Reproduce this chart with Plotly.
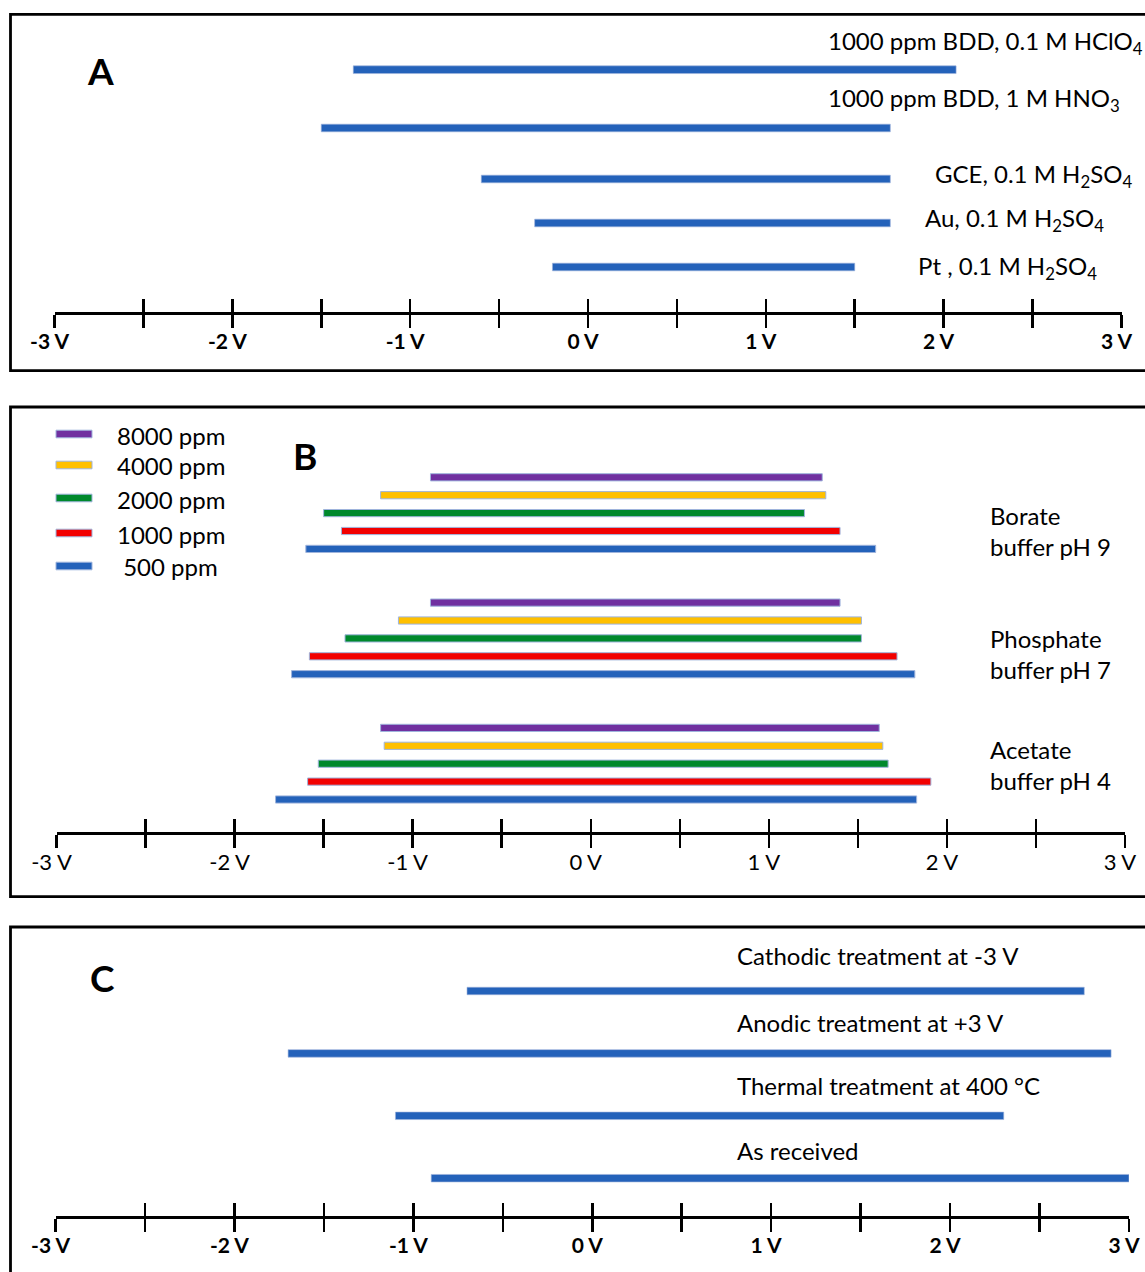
import plotly.graph_objects as go

# ---------------- data ----------------
tick_vals = [-3, -2.5, -2, -1.5, -1, -0.5, 0, 0.5, 1, 1.5, 2, 2.5, 3]
tick_text = ["-3 V", "", "-2 V", "", "-1 V", "", "0 V", "", "1 V", "", "2 V", "", "3 V"]

# Panel A
a_labels = ["1000 ppm BDD, 0.1 M HClO<sub>4</sub>",
            "1000 ppm BDD, 1 M HNO<sub>3</sub>",
            "GCE, 0.1 M H<sub>2</sub>SO<sub>4</sub>",
            "Au, 0.1 M H<sub>2</sub>SO<sub>4</sub>",
            "Pt , 0.1 M H<sub>2</sub>SO<sub>4</sub>"]
a_low = [-1.32, -1.50, -0.60, -0.30, -0.20]
a_high = [2.07, 1.70, 1.70, 1.70, 1.50]

# Panel B  (order of values: borate, phosphate, acetate)
b_buffers = ["Borate<br>buffer pH 9", "Phosphate<br>buffer pH 7", "Acetate<br>buffer pH 4"]
b_conc = ["8000 ppm", "4000 ppm", "2000 ppm", "1000 ppm", " 500 ppm"]
b_low_8000 = [-0.90, -0.90, -1.18]
b_high_8000 = [1.30, 1.40, 1.62]
b_low_4000 = [-1.18, -1.08, -1.16]
b_high_4000 = [1.32, 1.52, 1.64]
b_low_2000 = [-1.50, -1.38, -1.53]
b_high_2000 = [1.20, 1.52, 1.67]
b_low_1000 = [-1.40, -1.58, -1.59]
b_high_1000 = [1.40, 1.72, 1.91]
b_low_500 = [-1.60, -1.68, -1.77]
b_high_500 = [1.60, 1.82, 1.83]

# Panel C
c_labels = ["Cathodic treatment at -3 V", "Anodic treatment at +3 V",
            "Thermal treatment at 400 °C", "As received"]
c_low = [-0.70, -1.70, -1.10, -0.90]
c_high = [2.75, 2.90, 2.30, 3.00]

# ---------------- styles / layout ----------------
W, H = 1145, 1272
FONT = "Lato"
BLUE = "#2462BA"
B_COLORS = ["#7030A0", "#FFC000", "#00892C", "#F20000", BLUE]
OUTLINE = "#9FB4DC"


def px(x):
    return x / W


def py(y):
    return 1 - y / H


# panel geometry (pixels)
panels = {
    "A": dict(x0=54.5, x1=1121.5, top=14.3, bottom=370.7, axis=312.3, slot0=69.7, unit=50.0),
    "B": dict(x0=56.5, x1=1125.0, top=407.0, bottom=896.7, axis=832.3, slot0=477.3, unit=17.9),
    "C": dict(x0=55.5, x1=1129.0, top=927.0, bottom=1300.0, axis=1216.0, slot0=991.0, unit=62.4),
}
a_rows = [0, 1.166, 2.186, 3.066, 3.946]
b_rows = [[g * 7 + i for g in range(3)] for i in range(5)]
c_rows = [0, 1, 2, 3]

fig = go.Figure()

axis_ids = {"A": ("x", "y", "x4"), "B": ("x2", "y2", "x5"), "C": ("x3", "y3", "x6")}


def add_bars(panel, rows, low, high, color, thick_px, outline_w):
    p = panels[panel]
    xa, ya, _ = axis_ids[panel]
    fig.add_trace(go.Bar(
        orientation="h", y=rows, base=low, x=[h - l for l, h in zip(low, high)],
        width=thick_px / p["unit"], marker=dict(color=color, line=dict(color=OUTLINE, width=outline_w)),
        xaxis=xa, yaxis=ya, showlegend=False, hoverinfo="skip"))


add_bars("A", a_rows, a_low, a_high, BLUE, 7.7, 0.6)
b_lows = [b_low_8000, b_low_4000, b_low_2000, b_low_1000, b_low_500]
b_highs = [b_high_8000, b_high_4000, b_high_2000, b_high_1000, b_high_500]
for i in range(5):
    add_bars("B", b_rows[i], b_lows[i], b_highs[i], B_COLORS[i], 7.2, 1.0)
add_bars("C", c_rows, c_low, c_high, BLUE, 7.5, 0.6)

# invisible traces to realise the overlay tick axes
for panel, rows, low in (("A", a_rows, a_low), ("B", b_rows[0], b_low_8000), ("C", c_rows, c_low)):
    xa, ya, xo = axis_ids[panel]
    fig.add_trace(go.Scatter(x=low, y=rows, xaxis=xo, yaxis=ya, mode="markers",
                             marker=dict(opacity=0), showlegend=False, hoverinfo="skip"))

layout = dict(
    width=W, height=H, autosize=False,
    margin=dict(l=0, r=0, t=0, b=0, pad=0, autoexpand=False),
    paper_bgcolor="white", plot_bgcolor="rgba(0,0,0,0)",
    barmode="overlay", showlegend=False,
    font=dict(family=FONT, color="black"),
)

for idx, panel in enumerate(["A", "B", "C"]):
    p = panels[panel]
    xa, ya, xo = axis_ids[panel]
    xname = "xaxis" if xa == "x" else "xaxis" + xa[1:]
    yname = "yaxis" if ya == "y" else "yaxis" + ya[1:]
    oname = "xaxis" + xo[1:]
    dom_x = [px(p["x0"]), px(p["x1"])]
    dom_y = [py(p["axis"]), py(p["top"])]
    bold = panel in ("A", "C")
    tfont = dict(family=FONT, size=21 if bold else 22, color="black",
                 weight="bold" if bold else "normal")
    common = dict(range=[-3.0001, 3.0001], domain=dom_x, tickmode="array", tickvals=tick_vals,
                  showgrid=False, zeroline=False, tickcolor="black", tickwidth=2.5, ticklen=13,
                  fixedrange=True, automargin=False)
    layout[xname] = dict(common, anchor=ya, showline=True, linecolor="black", linewidth=2.5,
                         ticks="outside", ticktext=tick_text, tickfont=tfont,
                         ticklabelshift=-5, ticklabelstandoff=-4)
    layout[oname] = dict(common, anchor=ya, overlaying=xa, showline=False, ticks="inside",
                         showticklabels=False)
    layout[yname] = dict(domain=dom_y, visible=False, fixedrange=True, automargin=False,
                         range=[(p["axis"] - p["slot0"]) / p["unit"], (p["top"] - p["slot0"]) / p["unit"]])

fig.update_layout(**layout)

# panel frames
shapes = []
for panel in ["A", "B", "C"]:
    p = panels[panel]
    shapes.append(dict(type="rect", xref="paper", yref="paper",
                       x0=px(10.5), x1=px(1160), y0=py(p["bottom"]), y1=py(p["top"]),
                       line=dict(color="black", width=2.8), fillcolor="rgba(0,0,0,0)", layer="below"))

# legend swatches (panel B)
leg_y = [434, 465, 498, 533, 566]
for i in range(5):
    shapes.append(dict(type="rect", xref="paper", yref="paper",
                       x0=px(56), x1=px(92), y0=py(leg_y[i] + 3.8), y1=py(leg_y[i] - 3.8),
                       fillcolor=B_COLORS[i], line=dict(color=OUTLINE, width=1)))
fig.update_layout(shapes=shapes)

ann = []
LBL = dict(family=FONT, size=24, color="black")
# panel letters
for letter, (lx, ly) in {"A": (100, 70), "B": (305, 456), "C": (102, 977)}.items():
    ann.append(dict(text=letter, x=px(lx), y=py(ly), xref="paper", yref="paper", showarrow=False,
                    xanchor="center", yanchor="middle",
                    font=dict(family=FONT, size=37, color="black", weight="bold")))
# panel A labels
a_lab_pos = [(825.7, 42), (825.7, 100), (933, 176), (922.7, 220), (916, 267)]
for t, (lx, ly) in zip(a_labels, a_lab_pos):
    ann.append(dict(text=t, x=px(lx), y=py(ly), xref="paper", yref="paper", showarrow=False,
                    xanchor="left", yanchor="middle", font=LBL))
# panel B buffer labels
b_lab_pos = [(988, 531), (988, 654), (988, 765)]
for t, (lx, ly) in zip(b_buffers, b_lab_pos):
    ann.append(dict(text=t, x=px(lx), y=py(ly), xref="paper", yref="paper", showarrow=False,
                    xanchor="left", yanchor="middle", align="left", font=LBL))
# panel B legend text
for i, t in enumerate(b_conc):
    ann.append(dict(text=t.replace(" ", "&nbsp;", 1) if t.startswith(" ") else t,
                    x=px(115), y=py(leg_y[i] + 1), xref="paper", yref="paper", showarrow=False,
                    xanchor="left", yanchor="middle", font=LBL))
# panel C labels
c_lab_pos = [(735, 955), (735, 1022), (735, 1085), (735, 1150)]
for t, (lx, ly) in zip(c_labels, c_lab_pos):
    ann.append(dict(text=t, x=px(lx), y=py(ly), xref="paper", yref="paper", showarrow=False,
                    xanchor="left", yanchor="middle", font=LBL))
fig.update_layout(annotations=ann)

fig.write_html("out.html", config={"displayModeBar": False, "staticPlot": True},
               post_script="document.body.style.margin='0';document.body.style.overflow='hidden';")
